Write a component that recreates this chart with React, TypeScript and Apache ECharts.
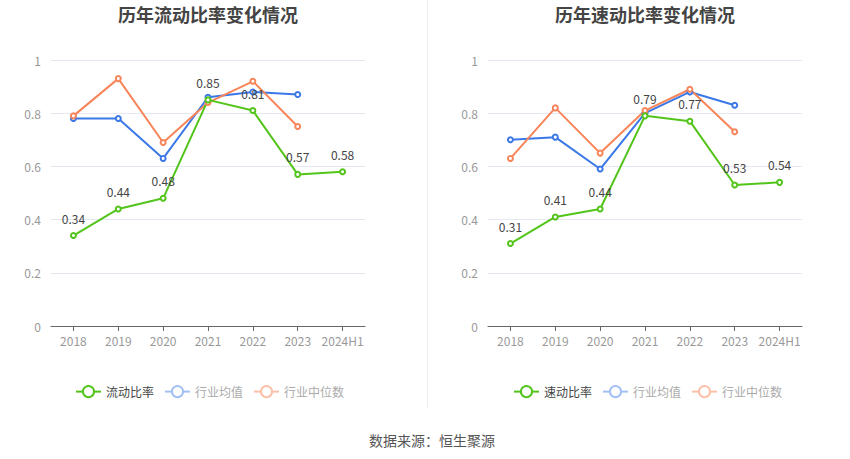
import React, { useEffect, useRef } from "react";
import * as echarts from "echarts";

const categories = ["2018", "2019", "2020", "2021", "2022", "2023", "2024H1"];
const currentRatio = [0.34, 0.44, 0.48, 0.85, 0.81, 0.57, 0.58];
const currentMean = [0.78, 0.78, 0.63, 0.86, 0.88, 0.87];
const currentMedian = [0.79, 0.93, 0.69, 0.84, 0.92, 0.75];
const quickRatio = [0.31, 0.41, 0.44, 0.79, 0.77, 0.53, 0.54];
const quickMean = [0.7, 0.71, 0.59, 0.8, 0.88, 0.83];
const quickMedian = [0.63, 0.82, 0.65, 0.81, 0.89, 0.73];

const GREEN = "#52c41a";
const BLUE = "#3b78e7";
const ORANGE = "#f8845a";
const BLUE_L = "#a3c0f5";
const ORANGE_L = "#fcc0a8";

export default function App() {
  const ref = useRef<HTMLDivElement>(null);
  useEffect(() => {
    document.body.style.margin = "0";
    const chart = echarts.init(ref.current!, null, { renderer: "svg" });
    const font = "'Microsoft YaHei', 'Noto Sans CJK SC', sans-serif";
    const mkX = (gi: number) => ({
      type: "category",
      gridIndex: gi,
      data: categories,
      boundaryGap: true,
      axisLine: { lineStyle: { color: "#666" } },
      axisTick: { show: true, alignWithLabel: true, lineStyle: { color: "#666" } },
      axisLabel: { color: "#999", fontSize: 12, margin: 8, interval: 0, fontFamily: font },
    });
    const mkY = (gi: number) => ({
      type: "value",
      gridIndex: gi,
      min: 0,
      max: 1,
      interval: 0.2,
      axisLine: { show: false },
      axisTick: { show: false },
      axisLabel: { color: "#999", fontSize: 12, margin: 10, fontFamily: font },
      splitLine: { lineStyle: { color: "#e3e8f3" } },
    });
    const line = (name: string, data: number[], color: string, gi: number, label: boolean) => ({
      type: "line",
      name,
      xAxisIndex: gi,
      yAxisIndex: gi,
      data,
      symbol: "emptyCircle",
      symbolSize: 5,
      lineStyle: { color, width: 2 },
      itemStyle: { color },
      label: label
        ? { show: true, position: "top", color: "#444", fontSize: 12, distance: 8, fontFamily: font }
        : { show: false },
    });
    const legend = (first: string, left: number) => ({
      left,
      top: 380,
      itemWidth: 25,
      itemHeight: 14,
      itemGap: 10,
      textStyle: { fontSize: 12, color: "#666", fontFamily: font },
      data: [
        { name: first, textStyle: { color: "#444" } },
        {
          name: "行业均值",
          itemStyle: { color: BLUE_L, borderColor: BLUE_L },
          lineStyle: { color: BLUE_L },
          textStyle: { color: "#aaa" },
        },
        {
          name: "行业中位数",
          itemStyle: { color: ORANGE_L, borderColor: ORANGE_L },
          lineStyle: { color: ORANGE_L },
          textStyle: { color: "#aaa" },
        },
      ],
      selectedMode: false,
    });
    chart.setOption({
      animation: false,
      title: [
        {
          text: "历年流动比率变化情况",
          left: 203,
          top: 0,
          textAlign: "center",
          textStyle: { fontSize: 18, fontWeight: "bold", color: "#444", fontFamily: font },
        },
        {
          text: "历年速动比率变化情况",
          left: 640,
          top: 0,
          textAlign: "center",
          textStyle: { fontSize: 18, fontWeight: "bold", color: "#444", fontFamily: font },
        },
        {
          text: "数据来源：恒生聚源",
          left: 427,
          top: 428,
          textAlign: "center",
          textStyle: { fontSize: 14, fontWeight: "normal", color: "#555", fontFamily: font },
        },
      ],
      legend: [legend("流动比率", 70), legend("速动比率", 508)],
      grid: [
        { left: 51, top: 60, width: 314, height: 266 },
        { left: 488, top: 60, width: 314, height: 266 },
      ],
      xAxis: [mkX(0), mkX(1)],
      yAxis: [mkY(0), mkY(1)],
      graphic: [
        {
          type: "line",
          shape: { x1: 427.5, y1: 0, x2: 427.5, y2: 408 },
          style: { stroke: "#eeeeee", lineWidth: 1 },
        },
      ],
      series: [
        line("行业均值", currentMean, BLUE, 0, false),
        line("行业中位数", currentMedian, ORANGE, 0, false),
        line("流动比率", currentRatio, GREEN, 0, true),
        line("行业均值", quickMean, BLUE, 1, false),
        line("行业中位数", quickMedian, ORANGE, 1, false),
        line("速动比率", quickRatio, GREEN, 1, true),
      ],
    });
    return () => chart.dispose();
  }, []);
  return <div ref={ref} style={{ width: 850, height: 459 }} />;
}
